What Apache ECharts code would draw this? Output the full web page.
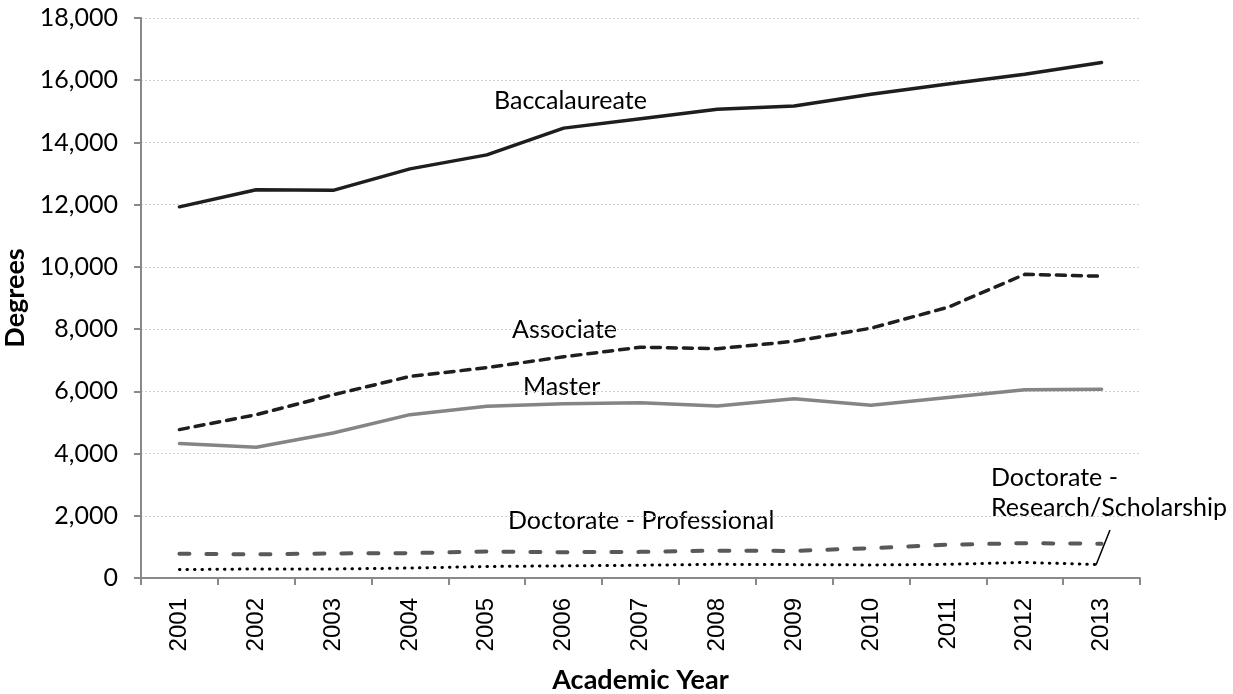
<!DOCTYPE html>
<html>
<head>
<meta charset="utf-8">
<script src="https://cdn.jsdelivr.net/npm/echarts@6/dist/echarts.min.js"></script>
<style>
  html, body { margin: 0; padding: 0; background: #fff; }
  #chart { width: 1233px; height: 694px; }
</style>
</head>
<body>
<div id="chart"></div>
<script>
// data
const years = ['2001', '2002', '2003', '2004', '2005', '2006', '2007', '2008', '2009', '2010', '2011', '2012', '2013'];
const baccalaureate = [11930, 12480, 12460, 13150, 13600, 14460, 14760, 15070, 15170, 15550, 15880, 16190, 16570];
const associate = [4770, 5250, 5890, 6480, 6760, 7110, 7420, 7370, 7610, 8030, 8700, 9760, 9700];
const master = [4320, 4200, 4660, 5250, 5520, 5600, 5630, 5530, 5760, 5550, 5800, 6050, 6070];
const docProfessional = [780, 760, 790, 800, 850, 830, 840, 880, 870, 960, 1070, 1120, 1100];
const docResearch = [270, 290, 290, 320, 370, 390, 410, 440, 430, 420, 440, 500, 430];

const chart = echarts.init(document.getElementById('chart'));
const font = 'Lato, "Noto Sans", sans-serif';

function line(name, data, color, type, width) {
    return {
        name: name,
        type: 'line',
        data: data,
        symbol: 'none',
        smooth: false,
        lineStyle: { color: color, width: width, type: type, cap: 'round', join: 'round' }
    };
}

const option = {
    animation: false,
    grid: { left: 141, top: 18, right: 93, bottom: 116, containLabel: false, outerBoundsMode: 'none' },
    xAxis: {
        type: 'category',
        data: years,
        boundaryGap: true,
        name: 'Academic Year',
        nameLocation: 'middle',
        nameGap: 89,
        nameTextStyle: { fontFamily: font, fontSize: 27, fontWeight: 'bold', color: '#000' },
        axisLine: { lineStyle: { color: '#898989', width: 2 } },
        axisTick: { show: true, alignWithLabel: false, length: 7, lineStyle: { color: '#898989', width: 2 } },
        axisLabel: { rotate: 90, margin: 20, fontFamily: '"Liberation Sans", Arial, sans-serif', fontSize: 24, color: '#000' }
    },
    yAxis: {
        type: 'value',
        min: 0,
        max: 18000,
        interval: 2000,
        name: 'Degrees',
        nameLocation: 'middle',
        nameGap: 108,
        nameTextStyle: { fontFamily: font, fontSize: 27, fontWeight: 'bold', color: '#000' },
        axisLine: { show: true, lineStyle: { color: '#898989', width: 2 } },
        axisTick: { show: true, length: 7, lineStyle: { color: '#898989', width: 2 } },
        axisLabel: {
            margin: 23,
            fontFamily: font,
            fontSize: 25,
            color: '#000',
            formatter: v => v.toLocaleString('en-US')
        },
        splitLine: { lineStyle: { color: '#d0d0d0', width: 1, type: [2, 2] } }
    },
    series: [
        line('Baccalaureate', baccalaureate, '#1e1e1e', 'solid', 3.5),
        line('Associate', associate, '#1e1e1e', [9, 7], 3.5),
        line('Master', master, '#858585', 'solid', 3.5),
        line('Doctorate - Professional', docProfessional, '#595959', [10, 17], 4),
        line('Doctorate - Research/Scholarship', docResearch, '#000', [0.5, 7], 3)
    ],
    graphic: [
        { type: 'text', left: 494, top: 88, style: { text: 'Baccalaureate', font: '25px ' + font, fill: '#000' } },
        { type: 'text', left: 512, top: 317, style: { text: 'Associate', font: '25px ' + font, fill: '#000' } },
        { type: 'text', left: 523, top: 374, style: { text: 'Master', font: '25px ' + font, fill: '#000' } },
        { type: 'text', left: 508, top: 508, style: { text: 'Doctorate - Professional', font: '25px ' + font, fill: '#000' } },
        { type: 'text', left: 991, top: 463, style: { text: 'Doctorate -\nResearch/Scholarship', font: '25px ' + font, fill: '#000', lineHeight: 30 } },
        { type: 'line', shape: { x1: 1096, y1: 565, x2: 1110, y2: 530 }, style: { stroke: '#000', lineWidth: 1.5 } }
    ]
};

chart.setOption(option);

window.addEventListener('resize', function() {
    chart.resize();
});
</script>
</body>
</html>
